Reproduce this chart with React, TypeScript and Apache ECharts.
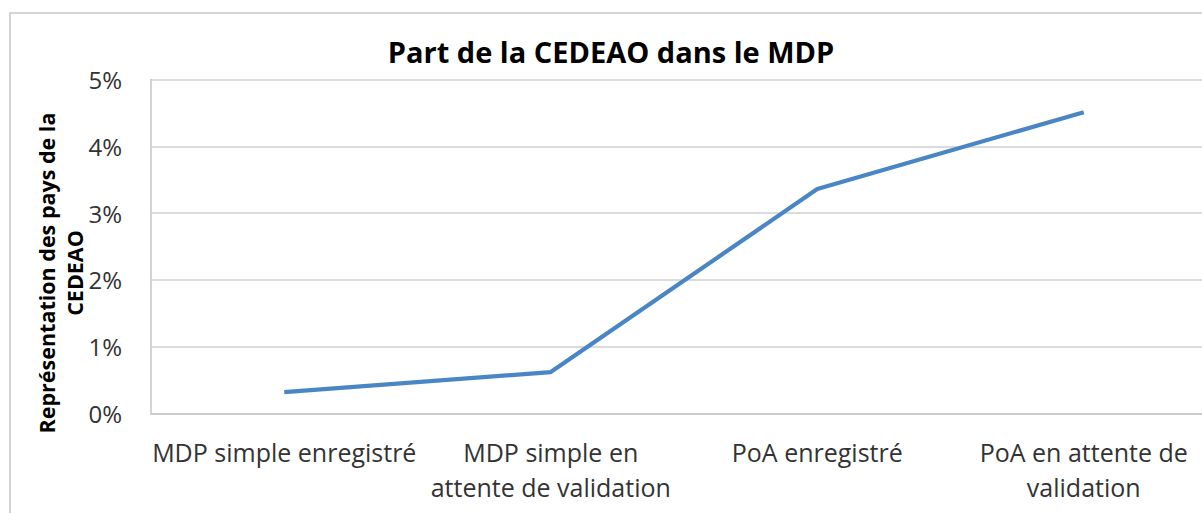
import React, { useEffect, useRef } from "react";
import * as echarts from "echarts";

const titleText = "Part de la CEDEAO dans le MDP";
const yAxisTitle = "Représentation des pays de la\nCEDEAO";
const categories = [
  "MDP simple enregistré",
  "MDP simple en\nattente de validation",
  "PoA enregistré",
  "PoA en attente de\nvalidation",
];
const shareValues = [0.32, 0.62, 3.36, 4.51];
const yTicks = { min: 0, max: 5, interval: 1 };

export default function App() {
  const ref = useRef<HTMLDivElement>(null);
  useEffect(() => {
    if (!ref.current) return;
    const chart = echarts.init(ref.current, null, { renderer: "svg" });
    const font = "'Open Sans', 'Liberation Sans', sans-serif";
    chart.setOption({
      animation: false,
      backgroundColor: "#ffffff",
      textStyle: { fontFamily: font },
      grid: { left: 151, top: 79.5, right: 13, height: 334, containLabel: false },
      xAxis: {
        type: "category",
        data: categories,
        boundaryGap: true,
        axisLine: { show: true, lineStyle: { color: "#c9c9c9", width: 1.6 } },
        axisTick: { show: false },
        axisLabel: {
          interval: 0,
          color: "#333333",
          fontSize: 25,
          fontFamily: font,
          lineHeight: 35,
          margin: 21,
          align: "center",
        },
      },
      yAxis: {
        type: "value",
        min: yTicks.min,
        max: yTicks.max,
        interval: yTicks.interval,
        axisLine: { show: true, lineStyle: { color: "#c9c9c9", width: 1.6 } },
        axisTick: { show: false },
        splitLine: { show: true, lineStyle: { color: "#cfcfcf", width: 1.6 } },
        axisLabel: {
          color: "#333333",
          fontSize: 24,
          fontFamily: font,
          margin: 29,
          formatter: (v: number) => v + "%",
        },
      },
      series: [
        {
          type: "line",
          data: shareValues,
          symbol: "none",
          lineStyle: { color: "#4a86c5", width: 4.2 },
          silent: true,
        },
      ],
      graphic: [
        {
          type: "rect",
          shape: { x: 10, y: 13, width: 1400, height: 700 },
          style: { fill: "none", stroke: "#c8c8c8", lineWidth: 1.6 },
          silent: true,
          z: -1,
        },
        {
          type: "text",
          x: 611,
          y: 51,
          style: {
            text: titleText,
            fill: "#000000",
            font: `bold 29px ${font}`,
            align: "center",
            verticalAlign: "middle",
          },
        },
        {
          type: "text",
          x: 60,
          y: 273,
          rotation: Math.PI / 2,
          style: {
            text: yAxisTitle,
            fill: "#000000",
            font: `bold 21.5px ${font}`,
            lineHeight: 28,
            align: "center",
            verticalAlign: "middle",
          },
        },
      ],
    });
    return () => chart.dispose();
  }, []);
  return (
    <div
      style={{ position: "absolute", left: 0, top: 0, width: 1202, height: 513, overflow: "hidden" }}
    >
      <div ref={ref} style={{ position: "absolute", left: 0, top: 0, width: 1230, height: 513 }} />
    </div>
  );
}
